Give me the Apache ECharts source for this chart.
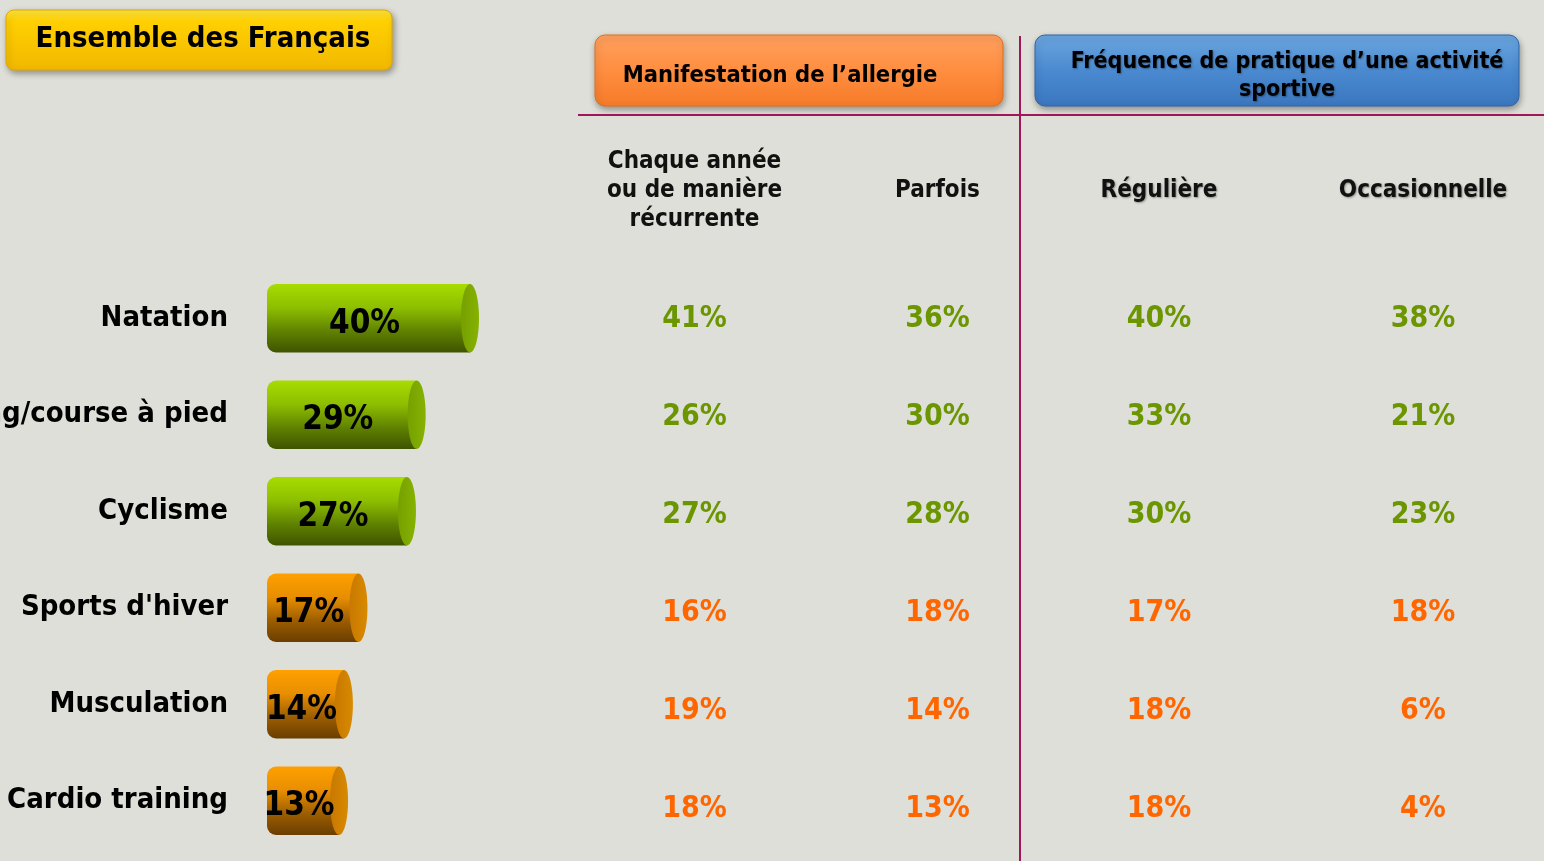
<!DOCTYPE html>
<html><head><meta charset="utf-8">
<script src="https://cdn.jsdelivr.net/npm/echarts@6/dist/echarts.min.js"></script>
<style>html,body{margin:0;padding:0;background:#DFDFD9;}#c{width:1544px;height:861px;}</style>
</head><body><div id="c"></div>
<script>
// ---- data ----
const sports = ['Natation', 'Jogging/course à pied', 'Cyclisme', "Sports d'hiver", 'Musculation', 'Cardio training'];
const ensemble = [40, 29, 27, 17, 14, 13];
const allergyColumns = ['Chaque année\nou de manière\nrécurrente', 'Parfois'];
const sportColumns = ['Régulière', 'Occasionnelle'];
const chaqueAnnee = [41, 26, 27, 16, 19, 18];
const parfois = [36, 30, 28, 18, 14, 13];
const reguliere = [40, 33, 30, 17, 18, 18];
const occasionnelle = [38, 21, 23, 18, 6, 4];
const mainTitle = 'Ensemble des Français';
const allergyTitle = 'Manifestation de l\u2019allergie';
const sportTitle = 'Fréquence de pratique d\u2019une activité\nsportive';

const FONT = "'DejaVu Sans Condensed','DejaVu Sans',sans-serif";
const GREEN = '#6B9600', ORANGE = '#FF6600';

function cyl(params, api) {
  const v = api.value(0), c = api.value(1);
  const p0 = api.coord([0, c]);
  const p1 = api.coord([v, c]);
  const h = api.size([0, 1])[1] * 0.71;
  const rx = 9;
  const top = p0[1] - h / 2;
  const green = c < 3;
  const grad = new echarts.graphic.LinearGradient(0, 0, 0, 1, green ? [
    {offset: 0, color: '#A8DC00'}, {offset: 0.35, color: '#8DBE00'}, {offset: 0.7, color: '#5E8000'}, {offset: 1, color: '#3E5400'}
  ] : [
    {offset: 0, color: '#FFA000'}, {offset: 0.35, color: '#E88E00'}, {offset: 0.7, color: '#9A5C00'}, {offset: 1, color: '#6A3E00'}
  ]);
  const capGrad = new echarts.graphic.LinearGradient(0, 0, 1, 0, green ? [
    {offset: 0, color: '#76A000'}, {offset: 1, color: '#86B200'}
  ] : [
    {offset: 0, color: '#C87800'}, {offset: 1, color: '#D88A00'}
  ]);
  return {type: 'group', children: [
    {type: 'rect', shape: {x: p0[0] - rx, y: top, width: p1[0] - p0[0] + rx, height: h, r: [rx, 0, 0, rx]}, style: {fill: grad}},
    {type: 'ellipse', shape: {cx: p1[0], cy: p0[1], rx: rx, ry: h / 2}, style: {fill: capGrad}},
    {type: 'text', style: {text: v + '%', x: (p0[0] - rx + p1[0]) / 2 - 4, y: p0[1] + 6, align: 'center', verticalAlign: 'middle',
      font: 'bold 33px ' + FONT, fill: '#000'}}
  ]};
}

function tableData(cols) {
  const out = [];
  cols.forEach((arr, ci) => arr.forEach((v, ri) => out.push({
    value: [ci, ri, v],
    label: {color: ri < 3 ? GREEN : ORANGE}
  })));
  return out;
}

const chart = echarts.init(document.getElementById('c'), null, {renderer: 'canvas'});
const hiddenY = (gi) => ({type: 'category', gridIndex: gi, data: sports, inverse: true, show: false});
const headerLabel = (shadow) => ({
  fontSize: 24, fontWeight: 'bold', fontFamily: FONT, color: '#111', lineHeight: 29,
  verticalAlign: 'middle', margin: 79, interval: 0,
  textShadowColor: shadow ? 'rgba(0,0,0,0.35)' : 'transparent', textShadowBlur: shadow ? 2 : 0,
  textShadowOffsetX: shadow ? 1 : 0, textShadowOffsetY: shadow ? 1 : 0
});
const valueLabel = {show: true, position: 'inside', formatter: p => p.value[2] + '%',
  fontSize: 30, fontWeight: 'bold', fontFamily: FONT};

chart.setOption({
  backgroundColor: '#DFDFD9',
  animation: false,
  grid: [
    {left: 276, top: 270, width: 485, height: 579, outerBoundsMode: 'none', containLabel: false},
    {left: 573, top: 270, width: 486, height: 588, outerBoundsMode: 'none', containLabel: false},
    {left: 1027, top: 270, width: 528, height: 588, outerBoundsMode: 'none', containLabel: false}
  ],
  xAxis: [
    {type: 'value', gridIndex: 0, min: 0, max: 100, show: false},
    {type: 'category', gridIndex: 1, data: allergyColumns, position: 'top', axisLine: {show: false}, axisTick: {show: false}, axisLabel: headerLabel(false)},
    {type: 'category', gridIndex: 2, data: sportColumns, position: 'top', axisLine: {show: false}, axisTick: {show: false}, axisLabel: headerLabel(true)}
  ],
  yAxis: [
    {type: 'category', gridIndex: 0, data: sports, inverse: true, axisLine: {show: false}, axisTick: {show: false},
      axisLabel: {fontSize: 29, fontWeight: 'bold', fontFamily: FONT, color: '#000', margin: 48}},
    hiddenY(1), hiddenY(2)
  ],
  series: [
    {type: 'custom', xAxisIndex: 0, yAxisIndex: 0, renderItem: cyl, data: ensemble.map((v, i) => [v, i]), encode: {x: 0, y: 1}},
    {type: 'scatter', xAxisIndex: 1, yAxisIndex: 1, symbolSize: 0, itemStyle: {opacity: 1}, label: valueLabel, data: tableData([chaqueAnnee, parfois])},
    {type: 'scatter', xAxisIndex: 2, yAxisIndex: 2, symbolSize: 0, itemStyle: {opacity: 1}, label: valueLabel, data: tableData([reguliere, occasionnelle])}
  ],
  graphic: [
    {type: 'rect', shape: {x: 6, y: 10, width: 386, height: 60, r: 8},
      style: {fill: new echarts.graphic.LinearGradient(0, 0, 0, 1, [{offset: 0, color: '#FFE640'}, {offset: 0.2, color: '#FFD000'}, {offset: 1, color: '#F2B800'}]),
        stroke: '#E0A800', lineWidth: 1, shadowColor: 'rgba(0,0,0,0.35)', shadowBlur: 6, shadowOffsetX: 2, shadowOffsetY: 3}},
    {type: 'text', x: 203, y: 39, style: {text: mainTitle, align: 'center', verticalAlign: 'middle', font: 'bold 29px ' + FONT, fill: '#000'}},
    {type: 'rect', shape: {x: 595, y: 35, width: 408, height: 71, r: 10},
      style: {fill: new echarts.graphic.LinearGradient(0, 0, 0, 1, [{offset: 0, color: '#FFA060'}, {offset: 0.5, color: '#FF8E40'}, {offset: 1, color: '#F57A28'}]),
        stroke: '#E07020', lineWidth: 1, shadowColor: 'rgba(0,0,0,0.35)', shadowBlur: 6, shadowOffsetX: 1, shadowOffsetY: 3}},
    {type: 'text', x: 780, y: 76, style: {text: allergyTitle, align: 'center', verticalAlign: 'middle', font: 'bold 23.5px ' + FONT, fill: '#000'}},
    {type: 'rect', shape: {x: 1035, y: 35, width: 484, height: 71, r: 10},
      style: {fill: new echarts.graphic.LinearGradient(0, 0, 0, 1, [{offset: 0, color: '#6BA6E0'}, {offset: 0.5, color: '#4A8AD0'}, {offset: 1, color: '#3A76BE'}]),
        stroke: '#2E64A8', lineWidth: 1, shadowColor: 'rgba(0,0,0,0.35)', shadowBlur: 6, shadowOffsetX: 1, shadowOffsetY: 3}},
    {type: 'text', x: 1287, y: 76, style: {text: sportTitle, align: 'center', verticalAlign: 'middle', lineHeight: 28, font: 'bold 23px ' + FONT, fill: '#000',
      textShadowColor: 'rgba(0,0,0,0.35)', textShadowBlur: 2, textShadowOffsetX: 1, textShadowOffsetY: 1}},
    {type: 'line', shape: {x1: 578, y1: 115, x2: 1544, y2: 115}, style: {stroke: '#A0165A', lineWidth: 2}},
    {type: 'line', shape: {x1: 1020, y1: 36, x2: 1020, y2: 861}, style: {stroke: '#A0165A', lineWidth: 2}}
  ]
});
</script></body></html>
